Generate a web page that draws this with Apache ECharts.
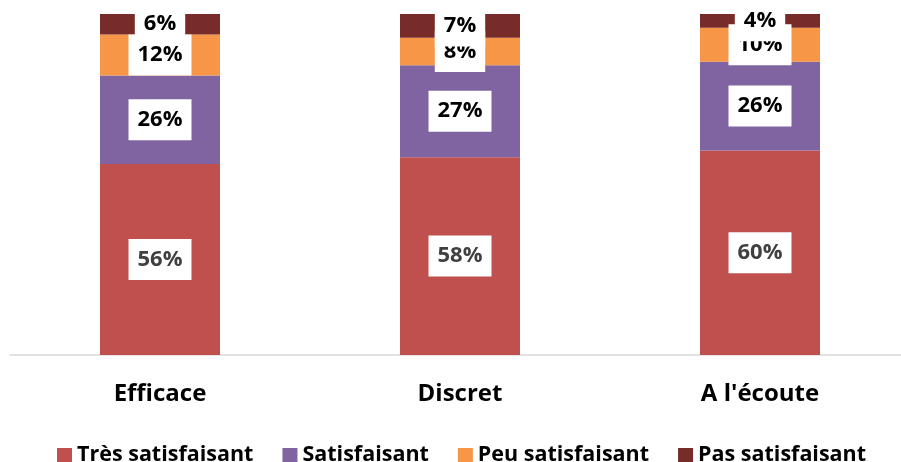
<!DOCTYPE html>
<html>
<head>
<meta charset="utf-8">
<script src="https://cdn.jsdelivr.net/npm/echarts@6/dist/echarts.min.js"></script>
<style>
  html, body { margin: 0; padding: 0; background: #fff; overflow: hidden; }
  #chart { width: 910px; height: 462px; }
</style>
</head>
<body>
<div id="chart"></div>
<script>
var categories = ['Efficace', 'Discret', "A l'écoute"]
var seriesNames = ['Très satisfaisant', 'Satisfaisant', 'Peu satisfaisant', 'Pas satisfaisant']
var tresSatisfaisant = [56, 58, 60]
var satisfaisant = [26, 27, 26]
var peuSatisfaisant = [12, 8, 10]
var pasSatisfaisant = [6, 7, 4]
var colors = ['#C0504D', '#8064A2', '#F79646', '#772C2A']

var font = '"Open Sans", "Liberation Sans", sans-serif'

function makeSeries (name, data, color, textColor) {
    return {
        name: name,
        type: 'bar',
        stack: 'total',
        barWidth: 120,
        data: data,
        itemStyle: { color: color },
        label: {
            show: true,
            position: 'inside',
            formatter: '{c}%',
            backgroundColor: '#fff',
            color: textColor,
            fontFamily: font,
            fontWeight: 'bold',
            fontSize: 22,
            lineHeight: 24,
            padding: [9, 9, 8, 9]
        }
    }
}

var myChart = echarts.init(document.getElementById('chart'))
var option = {
    animation: false,
    color: colors,
    grid: { left: 10, top: 14, right: 0, bottom: 107 },
    legend: {
        top: 439,
        left: 52,
        itemWidth: 15,
        itemHeight: 14,
        itemGap: 29,
        icon: 'rect',
        textStyle: { fontFamily: font, fontWeight: 'bold', fontSize: 21.5, color: '#000' },
        data: seriesNames
    },
    xAxis: {
        type: 'category',
        data: categories,
        axisLine: { lineStyle: { color: '#D9D9D9', width: 1.5 } },
        axisTick: { show: false },
        axisLabel: { margin: 27, fontFamily: font, fontWeight: 'bold', fontSize: 24, color: '#000' }
    },
    yAxis: {
        type: 'value',
        min: 0,
        max: 100,
        show: false,
        splitLine: { show: false }
    },
    series: [
        makeSeries(seriesNames[0], tresSatisfaisant, colors[0], '#404040'),
        makeSeries(seriesNames[1], satisfaisant, colors[1], '#000'),
        makeSeries(seriesNames[2], peuSatisfaisant, colors[2], '#000'),
        makeSeries(seriesNames[3], pasSatisfaisant, colors[3], '#000')
    ]
}
myChart.setOption(option)
</script>
</body>
</html>
